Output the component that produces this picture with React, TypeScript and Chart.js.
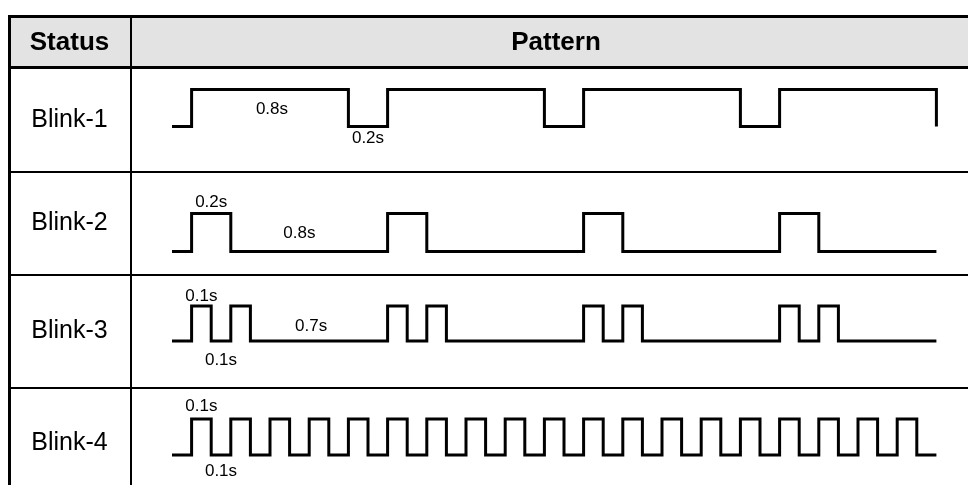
import React, { useEffect, useRef } from 'react';
import { Chart, registerables } from 'chart.js';

Chart.register(...registerables);

// ---- data ----
const headers = ['Status', 'Pattern'];
const statuses = ['Blink-1', 'Blink-2', 'Blink-3', 'Blink-4'];

// signal level (1 = on, 0 = off) holding from each time (seconds) onwards
const blink1Times = [0, 0.1, 0.9, 1.1, 1.9, 2.1, 2.9, 3.1, 3.9];
const blink1Levels = [0, 1, 0, 1, 0, 1, 0, 1, 0];

const blink2Times = [0, 0.1, 0.3, 1.1, 1.3, 2.1, 2.3, 3.1, 3.3, 3.9];
const blink2Levels = [0, 1, 0, 1, 0, 1, 0, 1, 0, 0];

const blink3Times = [0, 0.1, 0.2, 0.3, 0.4, 1.1, 1.2, 1.3, 1.4, 2.1, 2.2, 2.3, 2.4, 3.1, 3.2, 3.3, 3.4, 3.9];
const blink3Levels = [0, 1, 0, 1, 0, 1, 0, 1, 0, 1, 0, 1, 0, 1, 0, 1, 0, 0];

const blink4Times = [
  0, 0.1, 0.2, 0.3, 0.4, 0.5, 0.6, 0.7, 0.8, 0.9,
  1.0, 1.1, 1.2, 1.3, 1.4, 1.5, 1.6, 1.7, 1.8, 1.9,
  2.0, 2.1, 2.2, 2.3, 2.4, 2.5, 2.6, 2.7, 2.8, 2.9,
  3.0, 3.1, 3.2, 3.3, 3.4, 3.5, 3.6, 3.7, 3.8, 3.9,
];
const blink4Levels = [
  0, 1, 0, 1, 0, 1, 0, 1, 0, 1,
  0, 1, 0, 1, 0, 1, 0, 1, 0, 1,
  0, 1, 0, 1, 0, 1, 0, 1, 0, 1,
  0, 1, 0, 1, 0, 1, 0, 1, 0, 0,
];

// duration annotations
const noteTexts = ['0.8s', '0.2s', '0.2s', '0.8s', '0.1s', '0.1s', '0.7s', '0.1s', '0.1s'];
const noteRows = [0, 0, 1, 1, 2, 2, 2, 3, 3];
const noteTimes = [0.51, 1.0, 0.2, 0.65, 0.15, 0.25, 0.71, 0.15, 0.25];
const noteLevels = [0.47, -0.31, 1.3, 0.49, 1.29, -0.54, 0.43, 1.36, -0.44];

// ---- layout ----
const W = 968;
const H = 485;
const X0_PX = 172;
const PX_PER_S = 196;
const rowHighPx = [89.5, 213.5, 306, 419];
const rowLowPx = [126.5, 251.5, 341, 455];
const rowLinesPx = [172, 275, 388];
const rowLabelY = [120.5, 223.5, 331.5, 443];
const FONT = '"Liberation Sans", Arial, Helvetica, sans-serif';

const series = [
  { times: blink1Times, levels: blink1Levels },
  { times: blink2Times, levels: blink2Levels },
  { times: blink3Times, levels: blink3Levels },
  { times: blink4Times, levels: blink4Levels },
];

const tablePlugin = {
  id: 'tableGrid',
  beforeDatasetsDraw(chart: any) {
    const ctx = chart.ctx as CanvasRenderingContext2D;
    ctx.save();
    // header fill
    ctx.fillStyle = '#e3e3e3';
    ctx.fillRect(11, 18, W - 11, 48);
    ctx.strokeStyle = '#000';
    ctx.lineCap = 'butt';
    const hline = (y: number, w: number) => {
      ctx.lineWidth = w;
      ctx.beginPath();
      ctx.moveTo(8, y);
      ctx.lineTo(W, y);
      ctx.stroke();
    };
    const vline = (x: number, w: number) => {
      ctx.lineWidth = w;
      ctx.beginPath();
      ctx.moveTo(x, 15);
      ctx.lineTo(x, H);
      ctx.stroke();
    };
    hline(16.5, 3);
    hline(67.5, 3);
    rowLinesPx.forEach((y) => hline(y, 2));
    vline(9.5, 3);
    vline(131, 2);

    // header texts
    ctx.fillStyle = '#000';
    ctx.textAlign = 'center';
    ctx.textBaseline = 'middle';
    ctx.font = `bold 26px ${FONT}`;
    ctx.fillText(headers[0], 69.5, 43);
    ctx.fillText(headers[1], 556, 43);
    // status labels
    ctx.font = `25px ${FONT}`;
    statuses.forEach((s, i) => ctx.fillText(s, 69.5, rowLabelY[i]));
    ctx.restore();
  },
  afterDatasetsDraw(chart: any) {
    const ctx = chart.ctx as CanvasRenderingContext2D;
    const xs = chart.scales.x;
    ctx.save();
    ctx.fillStyle = '#000';
    ctx.textAlign = 'center';
    ctx.textBaseline = 'middle';
    ctx.font = `17px ${FONT}`;
    noteTexts.forEach((t, i) => {
      const ys = chart.scales['y' + noteRows[i]];
      ctx.fillText(t, xs.getPixelForValue(noteTimes[i]), ys.getPixelForValue(noteLevels[i]));
    });
    ctx.restore();
  },
};

export default function App() {
  const ref = useRef<HTMLCanvasElement | null>(null);

  useEffect(() => {
    if (!ref.current) return;
    const yScales: any = {};
    series.forEach((_, i) => {
      const unit = rowLowPx[i] - rowHighPx[i];
      const min = -(H - rowLowPx[i]) / unit;
      yScales['y' + i] = {
        type: 'linear',
        display: false,
        min,
        max: min + H / unit,
      };
    });
    const chart = new Chart(ref.current, {
      type: 'line',
      data: {
        datasets: series.map((s, i) => ({
          label: statuses[i],
          data: s.times.map((t, j) => ({ x: t, y: s.levels[j] })),
          yAxisID: 'y' + i,
          stepped: true,
          borderColor: '#000',
          borderWidth: 3,
          pointRadius: 0,
          fill: false,
          tension: 0,
          borderJoinStyle: 'miter',
          borderCapStyle: 'butt',
          clip: false,
        })),
      } as any,
      options: {
        animation: false,
        responsive: false,
        devicePixelRatio: 1,
        layout: { padding: 0 },
        events: [],
        plugins: {
          legend: { display: false },
          tooltip: { enabled: false },
          title: { display: false },
        },
        scales: {
          x: {
            type: 'linear',
            display: false,
            min: -X0_PX / PX_PER_S,
            max: (W - X0_PX) / PX_PER_S,
          },
          ...yScales,
        },
      } as any,
      plugins: [tablePlugin],
    });
    return () => chart.destroy();
  }, []);

  return (
    <div style={{ position: 'fixed', left: 0, top: 0, width: W, height: H, background: '#fff' }}>
      <canvas ref={ref} width={W} height={H} style={{ display: 'block', width: W, height: H }} />
    </div>
  );
}
